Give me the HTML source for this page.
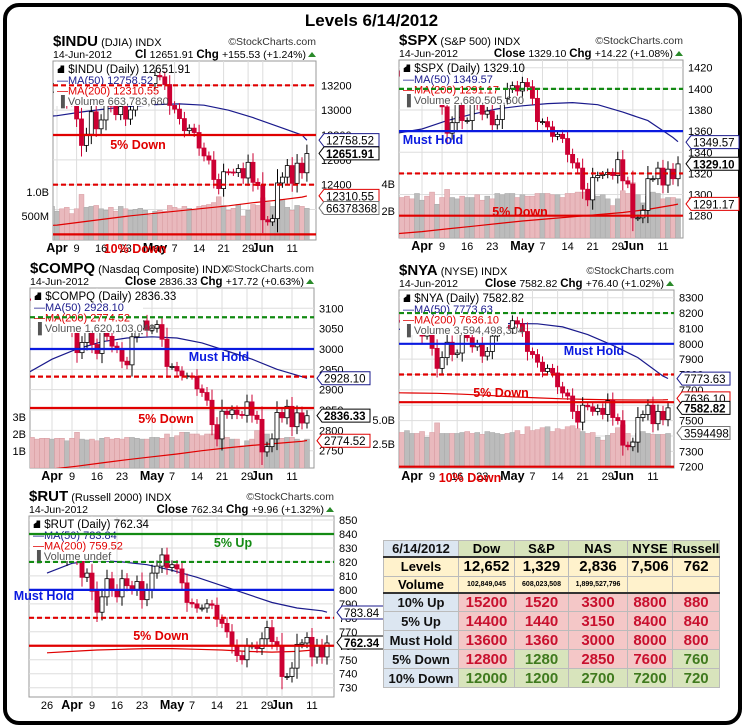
<!DOCTYPE html>
<html><head><meta charset="utf-8">
<style>
html,body{margin:0;padding:0;background:#fff;}
body{width:743px;height:726px;position:relative;overflow:hidden;font-family:"Liberation Sans",Arial,sans-serif;}
#frame{position:absolute;left:3px;top:3px;width:731px;height:714px;border:4px solid #000;border-radius:16px;}
#title{position:absolute;left:0;width:743px;top:11px;text-align:center;font-weight:bold;font-size:17px;}
svg{position:absolute;left:0;top:0;}
#tbl{position:absolute;left:383px;top:540px;border-collapse:collapse;font-family:"Liberation Sans",Arial,sans-serif;}
#tbl td{border:1px solid #bbb;text-align:center;padding:0;font-weight:bold;}
.lab{background:#dce6f1;font-size:13px;color:#111;}
.hd{background:#d8e4bc;font-size:13px;}
.cr{background:#fff2cc;}
.r{background:#f4c7c7;color:#c8102e;font-size:15px;}
.g{background:#d8e4bc;color:#3f7a1e;font-size:15px;}
</style></head>
<body>
<div id="frame"></div>
<div id="title">Levels 6/14/2012</div>
<svg id="s" width="743" height="726"></svg>

<table id="tbl">
<tr style="height:16px"><td class="lab" style="width:74px">6/14/2012</td><td class="hd" style="width:55px">Dow</td><td class="hd" style="width:53px">S&amp;P</td><td class="hd" style="width:58px">NAS</td><td class="hd" style="width:44px">NYSE</td><td class="hd" style="width:45px">Russell</td></tr>
<tr style="height:19px;border-top:2px solid #333"><td class="cr" style="font-size:13px">Levels</td><td class="cr" style="font-size:15px">12,652</td><td class="cr" style="font-size:15px">1,329</td><td class="cr" style="font-size:15px">2,836</td><td class="cr" style="font-size:15px">7,506</td><td class="cr" style="font-size:15px">762</td></tr>
<tr style="height:15px;border-bottom:2px solid #333"><td class="cr" style="font-size:13px">Volume</td><td class="cr" style="font-size:7px">102,849,045</td><td class="cr" style="font-size:7px">608,023,508</td><td class="cr" style="font-size:7px">1,899,527,796</td><td class="cr"></td><td class="cr"></td></tr>
<tr style="height:19px"><td class="lab">10% Up</td><td class="r">15200</td><td class="r">1520</td><td class="r">3300</td><td class="r">8800</td><td class="r">880</td></tr>
<tr style="height:19px"><td class="lab">5% Up</td><td class="r">14400</td><td class="r">1440</td><td class="r">3150</td><td class="r">8400</td><td class="r">840</td></tr>
<tr style="height:19px"><td class="lab">Must Hold</td><td class="r">13600</td><td class="r">1360</td><td class="r">3000</td><td class="r">8000</td><td class="r">800</td></tr>
<tr style="height:19px"><td class="lab">5% Down</td><td class="r">12800</td><td class="g">1280</td><td class="r">2850</td><td class="r">7600</td><td class="g">760</td></tr>
<tr style="height:19px"><td class="lab">10% Down</td><td class="g">12000</td><td class="g">1200</td><td class="g">2700</td><td class="g">7200</td><td class="g">720</td></tr>
</table>

<script>
// Trading days Mar 26 .. Jun 14 2012 (index 0 = Mar 26, 5 = Apr 2)
const dateTicks = [5, 9, 14, 19, 25, 29, 34, 39, 44, 47, 53];
const dateLabels = ["Apr", "9", "16", "23", "May", "7", "14", "21", "29", "Jun", "11"];
const maIdx = [0, 5, 10, 15, 20, 25, 30, 35, 40, 45, 50, 55, 56];

const induClose = [13241,13197,13126,13145,13212, 13264,13199,13074,13060, 12929,12716,12806,12987,12850, 12921,13115,13032,12964,13029, 12928,13001,13090,13204,13228, 13214,13279,13268,13206,13038, 13008,12932,12835,12855,12820, 12695,12632,12598,12442,12369, 12504,12502,12497,12530,12454, 12580,12419,12393,12118, 12101,12127,12414,12461,12554, 12411,12573,12496,12651];
const induVol = [0.62,0.6,0.65,0.62,0.7, 0.6,0.65,0.68,0.55, 0.65,0.95,0.68,0.7,0.72, 0.65,0.62,0.68,0.6,0.7, 0.65,0.62,0.64,0.66,0.62, 0.52,0.6,0.62,0.6,0.72, 0.68,0.65,0.7,0.66,0.62, 0.7,0.72,0.74,0.78,0.9, 0.72,0.62,0.66,0.74,0.5, 0.62,0.74,0.72,0.88, 0.78,0.7,0.82,0.85,0.68, 0.62,0.72,0.7,0.66];
const induMa50 = [12940,12955,12985,13010,13030,13045,13050,13040,13000,12940,12870,12800,12758];
const induMa200 = [12065,12075,12100,12125,12150,12170,12190,12210,12230,12255,12275,12300,12310];

const spxClose = [1417,1412,1405,1403,1408, 1419,1413,1398,1398, 1383,1358,1368,1387,1370, 1370,1391,1385,1376,1379, 1366,1371,1391,1400,1403, 1398,1406,1402,1391,1369, 1369,1364,1355,1357,1353, 1338,1330,1325,1305,1295, 1316,1318,1319,1321,1318, 1333,1313,1310,1278, 1278,1285,1315,1315,1325, 1309,1324,1315,1329];
const spxVol = [2.9,3.0,3.1,2.9,3.3, 2.8,3.1,3.4,2.5, 3.0,3.6,3.0,2.9,3.1, 3.0,3.0,3.2,2.8,3.1, 2.9,3.3,3.2,3.3,3.3, 3.0,3.2,3.1,3.1,3.3, 3.3,3.3,3.2,3.2,3.0, 3.3,3.3,3.4,3.4,3.5, 3.2,3.1,3.2,2.9,2.4, 2.9,3.5,3.3,4.1, 3.2,2.6,3.1,3.4,3.3, 2.9,3.0,3.0,2.9];
const spxMa50 = [1358,1362,1370,1376,1381,1384,1386,1387,1385,1378,1370,1354,1350];
const spxMa200 = [1263,1265,1267.5,1270,1272.5,1275,1277,1279,1281,1283,1286,1290,1291];

const compClose = [3123,3120,3104,3095,3092, 3120,3114,3068,3080, 3047,2991,3016,3055,3011, 2989,3042,3031,3007,3000, 2970,2961,3030,3050,3069, 3046,3051,3060,3024,2957, 2957,2946,2934,2934,2933, 2902,2893,2874,2814,2779, 2847,2839,2850,2839,2837, 2870,2837,2827,2747, 2760,2779,2844,2831,2859, 2809,2843,2818,2836];
const compVol = [1.7,1.8,1.7,1.75,1.75, 1.7,1.75,1.75,1.6, 1.75,2.1,1.7,1.65,1.7, 1.6,1.75,1.8,1.7,1.75, 1.7,1.8,1.8,1.75,1.7, 1.7,1.8,1.8,1.75,2.0, 1.8,1.9,2.1,2.1,2.0, 2.0,1.9,2.0,2.0,1.9, 1.9,1.8,1.7,1.7,1.3, 1.6,1.7,2.2,2.0, 2.0,1.6,1.7,1.75,1.8, 1.8,1.7,1.6,1.7];
const compMa50 = [2940,2975,3000,3018,3027,3030,3027,3015,2995,2975,2950,2932,2928];
const compMa200 = [2703,2705,2712,2720,2728,2735,2742,2750,2757,2763,2768,2773,2775];

const nyaClose = [8230,8190,8150,8140,8170, 8210,8160,8050,8060, 7970,7840,7910,8010,7930, 7940,8060,8040,7980,8000, 7920,7950,8050,8100,8120, 8100,8150,8130,8080,7950, 7930,7880,7820,7840,7810, 7720,7680,7660,7560,7490, 7600,7590,7560,7580,7540, 7630,7520,7500,7340, 7330,7360,7520,7540,7600, 7480,7560,7506,7583];
const nyaVol = [3.6,3.8,3.6,3.7,3.9, 3.6,3.6,3.8,3.2, 3.7,4.7,3.6,3.6,3.6, 3.6,3.7,3.8,3.6,3.7, 3.5,3.8,3.7,3.6,3.5, 3.6,3.7,3.9,3.5,4.3, 3.9,4.0,4.2,4.3,3.8, 4.1,4.0,4.3,4.4,4.1, 3.8,3.6,3.7,3.2,2.9, 3.4,3.6,4.2,4.5, 3.6,2.8,3.6,3.8,3.6, 3.5,3.5,3.5,3.6];
const nyaMa50 = [8090,8100,8110,8120,8128,8132,8130,8110,8060,7990,7910,7790,7774];
const nyaMa200 = [7682,7680,7678,7672,7665,7655,7648,7642,7638,7635,7634,7635,7636];

const rutClose = [839,831,824,822,830, 832,823,809,812, 799,784,795,808,800, 795,808,803,800,806, 793,800,812,817,825, 816,818,815,805,791, 790,787,787,790,789, 779,776,770,760,753, 750,760,760,758,765, 773,763,760,738, 738,744,761,762,766, 752,760,752,762];
const rutMa50 = [812,819,821,820,818,814,809,803,797,791,787,785,784];
const rutMa200 = [755,756,757,757.5,758,758,757.5,757,756,755.5,756,757.5,759.5];

const NS = "http://www.w3.org/2000/svg";
const svg = document.getElementById('s');
function el(tag, attrs, parent, txt) {
  const e = document.createElementNS(NS, tag);
  for (const k in attrs) e.setAttribute(k, attrs[k]);
  if (txt !== undefined) e.textContent = txt;
  (parent || svg).appendChild(e);
  return e;
}

function chart(c) {
  const g = el('g', {});
  
  
  const yv = v => c.y1 + (c.v1 - v) * (c.y2 - c.y1) / (c.v1 - c.v2);
  const xi = i => c.x0 + (i - 5) * c.step;
  const clipId = 'clip-' + c.name;
  const defs = el('defs', {}, g);
  const cp = el('clipPath', {id: clipId}, defs);
  el('rect', {x: c.L, y: c.T, width: c.R - c.L, height: c.B - c.T}, cp);

  // header
  const t1 = el('text', {x: c.L, y: c.T - 15, 'font-size': 11}, g);
  el('tspan', {'font-size': 15, 'font-weight': 'bold'}, t1, c.sym);
  el('tspan', {}, t1, ' ' + c.full + ' INDX');
  
  
  el('text', {x: c.R, y: c.T - 16, 'font-size': 10.5, 'text-anchor': 'end', fill: '#333'}, g, '\u00A9StockCharts.com');
  el('text', {x: c.L, y: c.T - 3, 'font-size': 10.5}, g, '14-Jun-2012');
  const t2 = el('text', {x: c.R - 10, y: c.T - 3, 'font-size': 10.5, 'text-anchor': 'end'}, g);
  el('tspan', {'font-weight': 'bold', 'font-size': 11.5}, t2, c.clLab + ' ');
  el('tspan', {}, t2, c.last + ' ');
  el('tspan', {'font-weight': 'bold', 'font-size': 11.5}, t2, 'Chg ');
  el('tspan', {}, t2, c.chg);
  el('path', {d: `M${c.R - 8} ${c.T - 4}l4 -5l4 5z`, fill: '#2a8a2a'}, g);

  // plot area
  el('rect', {x: c.L, y: c.T, width: c.R - c.L, height: c.B - c.T, fill: '#fff', stroke: '#999'}, g);
  const pg = el('g', {'clip-path': `url(#${clipId})`}, g);
  c.ticks.forEach(v => {
    const y = yv(v);
    if (y > c.T && y < c.B) el('line', {x1: c.L, x2: c.R, y1: y, y2: y, stroke: '#ddd'}, pg);
    if (y > c.T - 3 && y < c.B + 3) el('text', {x: c.R + 5, y: y + 4, 'font-size': 11}, g, v);
  });
  dateTicks.forEach((d, k) => {
    const x = xi(d);
    el('line', {x1: x, x2: x, y1: c.T, y2: c.B, stroke: '#ddd'}, pg);
    const b = isNaN(+dateLabels[k]);
    el('text', {x: x, y: c.B + 12, 'font-size': b ? 12.5 : 11, 'font-weight': b ? 'bold' : 'normal', 'text-anchor': 'middle'}, g, dateLabels[k]);
  });
  if (c.extraDate) el('text', {x: xi(0), y: c.B + 12, 'font-size': 11, 'text-anchor': 'middle'}, g, '26');

  // volume
  if (c.vol) {
    c.close.forEach((v, i) => {
      const dn = i > 0 && v < c.close[i - 1];
      const h = c.vol[i] * c.vpx;
      const bar = el('rect', {x: xi(i) - c.step / 2, y: c.B - h, width: c.step, height: h, fill: dn ? '#e9b9bd' : '#bcbcbc', stroke: dn ? '#d89aa0' : '#a8a8a8', 'stroke-width': 0.5}, pg);
      
      
    });
    c.volTicks.forEach((v, k) => {
      el('text', {x: c.L - 4, y: c.B - v * c.vpx + 4, 'font-size': 11, 'text-anchor': 'end'}, g, c.volLabels[k]);
    });
  }
  // MAs
  const maPath = arr => arr.map((v, k) => (k ? 'L' : 'M') + xi(maIdx[k]).toFixed(1) + ' ' + yv(v).toFixed(1)).join('');
  const m200 = el('path', {d: maPath(c.ma200), fill: 'none', stroke: '#e00000', 'stroke-width': 1.2}, pg);
  
  
  // legend
  const lg = el('g', {}, g);
  
  
  el('rect', {x: c.L + 1, y: c.T + 1, width: c.legW, height: 44, fill: '#fff'}, lg);
  const m50 = el('path', {d: maPath(c.ma50), fill: 'none', stroke: '#1a1a8c', 'stroke-width': 1.2}, pg);
  
  
  el('text', {x: c.L + 4, y: c.T + 12, 'font-size': 11.5}, lg, '\u26D8 ' + c.sym + ' (Daily) ' + c.last);
  el('text', {x: c.L + 4, y: c.T + 23, 'font-size': 11, fill: '#1a1a8c'}, lg, '\u2014MA(50) ' + c.ma50Txt);
  el('text', {x: c.L + 4, y: c.T + 33.5, 'font-size': 11, fill: '#e00000'}, lg, '\u2014MA(200) ' + c.ma200Txt);
  el('text', {x: c.L + 4, y: c.T + 44, 'font-size': 11, fill: '#555'}, lg, '\u2590 Volume ' + c.volTxt);

  // candles
  const cw = c.step * 0.82;
  c.close.forEach((v, i) => {
    if (i === 0) return;
    const o = c.close[i - 1];
    const up = v >= o;
    const d = Math.abs(v - o) * 0.3 + c.wick;
    const hi = Math.max(o, v) + d, lo = Math.min(o, v) - d;
    const x = xi(i);
    el('line', {x1: x, x2: x, y1: yv(hi), y2: yv(lo), stroke: up ? '#000' : '#cc0033'}, pg);
    const top = yv(Math.max(o, v)), h = Math.max(1, yv(Math.min(o, v)) - top);
    const cd = el('rect', {x: x - cw / 2, y: top, width: cw, height: h, fill: up ? '#fff' : '#cc0033', stroke: up ? '#000' : '#cc0033', 'stroke-width': 0.8}, pg);
    
    
  });

  // level lines
  c.levels.forEach(lv => {
    const y = yv(lv.v);
    const ln = el('line', {x1: c.L, x2: c.R, y1: y, y2: y, stroke: lv.col, 'stroke-width': 2.2, 'stroke-dasharray': lv.dash ? '5,3' : 'none'}, g);
    
    
  });
  c.notes.forEach(n => {
    const t = el('text', {x: n.x, y: n.y, 'font-size': 12.5, 'font-weight': 'bold', fill: n.col, 'text-anchor': 'middle'}, g, n.t);
    
    
  });
  // value tags
  c.tags.forEach(tg => {
    const y = tg.y !== undefined ? tg.y : yv(tg.v);
    const x = c.R + 3, w = tg.w || 55;
    el('path', {d: `M${x} ${y}l5 -6.5h${w}v13h-${w}z`, fill: '#fff', stroke: tg.col, 'stroke-width': 1}, g);
    el('text', {x: x + 7, y: y + 4.5, 'font-size': 11.5, 'font-weight': tg.bold ? 'bold' : 'normal'}, g, tg.t);
  });
}

chart({name: 'indu', sym: '$INDU', full: '(DJIA)', clLab: 'Cl', last: '12651.91', chg: '+155.53 (+1.24%)',
  L: 53, R: 316, T: 61, B: 240, v1: 13200, y1: 85.3, v2: 12400, y2: 184.7, x0: 57, step: 4.9, wick: 25,
  ticks: [13200, 13000, 12800, 12600, 12400, 12200], close: induClose, vol: induVol, vpx: 48, volTicks: [1, 0.5], volLabels: ['1.0B', '500M'],
  ma50: induMa50, ma200: induMa200, ma50Txt: '12758.52', ma200Txt: '12310.55', volTxt: '663,783,680', legW: 100,
  levels: [{v: 13200, col: '#e00000', dash: 1}, {v: 12800, col: '#e00000'}, {v: 12400, col: '#e00000', dash: 1}, {v: 12000, col: '#e00000'}],
  notes: [{t: '5% Down', x: 138, y: 149, col: '#e00000'}, {t: '10% Down', x: 135, y: 253, col: '#e00000'}],
  tags: [{v: 12758.52, t: '12758.52', col: '#1a1a8c'}, {v: 12651.91, t: '12651.91', col: '#000', bold: 1}, {v: 12310.55, t: '12310.55', col: '#e00000'}, {y: 208, t: '66378368', col: '#777'}]});

chart({name: 'spx', sym: '$SPX', full: '(S&P 500)', clLab: 'Close', last: '1329.10', chg: '+14.22 (+1.08%)',
  L: 399, R: 683, T: 60, B: 238, v1: 1420, y1: 67.7, v2: 1280, y2: 215.7, x0: 422, step: 5.02, wick: 3,
  ticks: [1420, 1400, 1380, 1360, 1340, 1320, 1300, 1280], close: spxClose, vol: spxVol, vpx: 13.5, volTicks: [4, 2], volLabels: ['4B', '2B'],
  ma50: spxMa50, ma200: spxMa200, ma50Txt: '1349.57', ma200Txt: '1291.17', volTxt: '2,680,505,600', legW: 105,
  levels: [{v: 1400, col: '#138a13', dash: 1}, {v: 1360, col: '#0a1ae0'}, {v: 1320, col: '#e00000', dash: 1}, {v: 1280, col: '#e00000'}],
  notes: [{t: 'Must Hold', x: 433, y: 144, col: '#0a1ae0'}, {t: '5% Down', x: 520, y: 216, col: '#e00000'}],
  tags: [{v: 1349.57, t: '1349.57', col: '#1a1a8c', w: 48}, {v: 1329.10, t: '1329.10', col: '#000', bold: 1, w: 48}, {v: 1291.17, t: '1291.17', col: '#e00000', w: 48}]});

chart({name: 'compq', sym: '$COMPQ', full: '(Nasdaq Composite)', clLab: 'Close', last: '2836.33', chg: '+17.72 (+0.63%)',
  L: 30, R: 314, T: 288, B: 468, v1: 3100, y1: 308.3, v2: 2750, y2: 450.7, x0: 52, step: 5, wick: 8,
  ticks: [3100, 3050, 3000, 2950, 2900, 2850, 2800, 2750], close: compClose, vol: compVol, vpx: 17, volTicks: [3, 2, 1], volLabels: ['3B', '2B', '1B'],
  ma50: compMa50, ma200: compMa200, ma50Txt: '2928.10', ma200Txt: '2774.52', volTxt: '1,620,103,040', legW: 112,
  levels: [{v: 3078, col: '#138a13', dash: 1}, {v: 3000, col: '#0a1ae0'}, {v: 2932, col: '#e00000', dash: 1}, {v: 2855, col: '#e00000'}],
  notes: [{t: 'Must Hold', x: 219, y: 361, col: '#0a1ae0'}, {t: '5% Down', x: 166, y: 423, col: '#e00000'}],
  tags: [{v: 2928.10, t: '2928.10', col: '#1a1a8c', w: 48}, {v: 2836.33, t: '2836.33', col: '#000', bold: 1, w: 48}, {v: 2774.52, t: '2774.52', col: '#e00000', w: 48}]});

chart({name: 'nya', sym: '$NYA', full: '(NYSE)', clLab: 'Close', last: '7582.82', chg: '+76.40 (+1.02%)',
  L: 399, R: 674, T: 290, B: 468, v1: 8300, y1: 297.7, v2: 7200, y2: 466.7, x0: 412, step: 5.02, wick: 20,
  ticks: [8300, 8200, 8100, 8000, 7900, 7800, 7700, 7600, 7500, 7400, 7300, 7200], close: nyaClose, vol: nyaVol, vpx: 9.6, volTicks: [5, 2.5], volLabels: ['5.0B', '2.5B'],
  ma50: nyaMa50, ma200: nyaMa200, ma50Txt: '7773.63', ma200Txt: '7636.10', volTxt: '3,594,498,304', legW: 108,
  levels: [{v: 8200, col: '#138a13', dash: 1}, {v: 8000, col: '#0a1ae0'}, {v: 7800, col: '#e00000', dash: 1}, {v: 7620, col: '#e00000'}, {v: 7200, col: '#e00000'}],
  notes: [{t: 'Must Hold', x: 594, y: 355, col: '#0a1ae0'}, {t: '5% Down', x: 501, y: 397, col: '#e00000'}, {t: '10% Down', x: 470, y: 482, col: '#e00000'}],
  tags: [{v: 7773.63, t: '7773.63', col: '#1a1a8c', w: 48}, {v: 7645, t: '7636.10', col: '#e00000', w: 48}, {v: 7582.82, t: '7582.82', col: '#000', bold: 1, w: 48}, {y: 433, t: '3594498', col: '#777', w: 48}]});

chart({name: 'rut', sym: '$RUT', full: '(Russell 2000)', clLab: 'Close', last: '762.34', chg: '+9.96 (+1.32%)',
  L: 29, R: 334, T: 516, B: 697, v1: 850, y1: 520, v2: 730, y2: 687.7, x0: 72, step: 5, wick: 2.5, extraDate: 1,
  ticks: [850, 840, 830, 820, 810, 800, 790, 780, 770, 760, 750, 740, 730], close: rutClose, vol: null,
  ma50: rutMa50, ma200: rutMa200, ma50Txt: '783.84', ma200Txt: '759.52', volTxt: 'undef', legW: 80,
  levels: [{v: 840, col: '#138a13'}, {v: 820, col: '#138a13', dash: 1}, {v: 800, col: '#0a1ae0'}, {v: 780, col: '#e00000', dash: 1}, {v: 760, col: '#e00000'}],
  notes: [{t: '5% Up', x: 233, y: 547, col: '#138a13'}, {t: 'Must Hold', x: 44, y: 600, col: '#0a1ae0'}, {t: '5% Down', x: 161, y: 640, col: '#e00000'}],
  tags: [{v: 783.84, t: '783.84', col: '#1a1a8c', w: 42}, {v: 762.34, t: '762.34', col: '#000', bold: 1, w: 42}]});
</script>
</body></html>
